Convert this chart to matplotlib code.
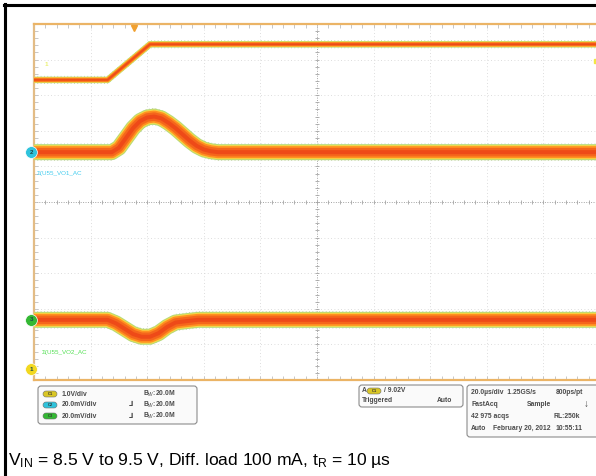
import numpy as np
import matplotlib
matplotlib.use("Agg")
import matplotlib.pyplot as plt
from matplotlib.patches import FancyBboxPatch

plt.rcParams['font.family'] = ['Liberation Sans', 'DejaVu Sans']
plt.rcParams['mathtext.fontset'] = 'custom'
plt.rcParams['mathtext.rm'] = 'Liberation Sans'

W, H = 596, 476
PX = 0.72  # one pixel in points at dpi 100

# scope settings
time_scale = 20.0   # us/div
ch1_scale = 1.0     # V/div
ch2_scale = 20.0    # mV/div
ch3_scale = 20.0    # mV/div
ch1_ref = 8.5       # V shown at ch1_pos
ch1_pos = 3.43      # div
ch2_pos = 1.40
ch3_pos = -3.31

# CH1: input step 8.5 V -> 9.5 V (V)
ch1_t = [-100, -74, -59, -57, 100]
ch1_v = [8.5, 8.5, 9.5, 9.5, 9.5]

# CH2: output 1, AC coupled (mV)
ch2_t = [-100, -72.5, -70, -67.5, -65, -62.5, -60, -57.5, -55, -52.5, -50,
         -47.5, -45, -42.5, -40, -37.5, -35, 100]
ch2_v = [0, 0, 2.5, 8, 13.5, 17.5, 19.5, 20, 19, 16.5, 13.5, 10, 6.5, 3.5,
         1.5, 0.5, 0, 0]

# CH3: output 2, AC coupled (mV)
ch3_t = [-100, -74, -71, -68, -65, -62, -59, -56, -53, -50, -46, -42, 100]
ch3_v = [0, 0, -2, -5, -8, -9.5, -9.5, -7.5, -4, -1.5, -0.7, 0, 0]

ch_rows = ['1.0V/div', '20.0mV/div', '20.0mV/div']
ch_colors = ['#D9C625', '#2FC3DC', '#34B834']

band_colors = ['#B8DA78', '#F7D846', '#FF9020', '#F5661C', '#EE4A18']


def draw_band(ax, x, y, widths, spread):
    for w, c in zip(widths, band_colors):
        ax.plot(x, y, color=c, lw=w * PX, solid_capstyle='butt',
                solid_joinstyle='round', zorder=3)
    # speckle at the edges of the fast-acq band
    for s in (-spread, spread):
        ax.plot(x, np.asarray(y) + s, color='#6F8F4A', lw=0.6,
                ls=(0, (1, 3)), alpha=0.5, zorder=2)


fig = plt.figure(figsize=(W / 100, H / 100), dpi=100)

ax = fig.add_axes([34 / W, 1 - 380 / H, 566 / W, 356 / H])
ax.set_xlim(-5, 5)
ax.set_ylim(-5, 5)
for side, sp in ax.spines.items():
    sp.set_color('#EBB466')
    sp.set_linewidth(1.6)
ax.spines['left'].set_color('#E3BC85')

fine = np.arange(-5, 5.01, 0.2)
ax.set_xticks(fine)
ax.set_yticks(fine)
ax.tick_params(which='both', direction='in', length=3, width=0.6,
               color='#BEBEBE', top=True, right=True,
               labelbottom=False, labelleft=False)

# graticule
for k in range(-4, 5):
    if k == 0:
        continue
    ax.axvline(k, color='#D2D2D2', lw=0.6, ls=(0, (1, 3)), zorder=1)
    ax.axhline(k, color='#D2D2D2', lw=0.6, ls=(0, (1, 3)), zorder=1)
ax.axvline(0, color='#A4A4A4', lw=0.7, ls=(0, (1, 1.5)), zorder=1)
ax.axhline(0, color='#A4A4A4', lw=0.7, ls=(0, (1, 1.5)), zorder=1)
ax.plot(fine, np.zeros_like(fine), ls='none', marker='|', ms=3,
        mew=0.6, color='#A4A4A4', zorder=1)
ax.plot(np.zeros_like(fine), fine, ls='none', marker='_', ms=3,
        mew=0.6, color='#A4A4A4', zorder=1)

# traces
x1 = np.array(ch1_t) / time_scale
y1 = (np.array(ch1_v) - ch1_ref) / ch1_scale + ch1_pos
draw_band(ax, x1, y1, [6.5, 5.5, 4.5, 3, 1.5], 0.1)

x2 = np.array(ch2_t) / time_scale
y2 = np.array(ch2_v) / ch2_scale + ch2_pos
draw_band(ax, x2, y2, [16, 14, 12, 8.5, 4], 0.23)

x3 = np.array(ch3_t) / time_scale
y3 = np.array(ch3_v) / ch3_scale + ch3_pos
draw_band(ax, x3, y3, [16, 14, 12, 8.5, 4], 0.23)

# channel markers on the left edge
for yy, col, lab in [(ch2_pos, ch_colors[1], '2'),
                     (ch3_pos, ch_colors[2], '3'),
                     (-4.7, '#F2D820', '1')]:
    ax.plot(-5.05, yy, 'o', ms=8.5, color=col, mec='white', mew=0.5,
            clip_on=False, zorder=6)
    ax.text(-5.05, yy, lab, fontsize=4.5, color='#1A4A4A', ha='center',
            va='center', fontweight='bold', zorder=7, clip_on=False)

ax.text(-4.95, ch2_pos - 0.6, 'Σ(U55_VO1_AC', fontsize=4.5,
        color='#44CCEE', va='center')
ax.text(-4.86, ch3_pos - 0.93, 'Σ(U55_VO2_AC', fontsize=4.5,
        color='#55E055', va='center')
ax.text(-4.82, 3.87, '1', fontsize=4.5, color='#EAF070', va='center',
        fontweight='bold')
ax.plot(4.93, 3.95, 's', ms=2.5, color='#F2E642', clip_on=False, zorder=5)
ax.plot(-64.5 / time_scale, 4.9, 'v', ms=4, color='#F0A030',
        clip_on=False, zorder=6)

# overlay in pixel coordinates for the readout boxes and caption
ov = fig.add_axes([0, 0, 1, 1])
ov.set_xlim(0, W)
ov.set_ylim(H, 0)
ov.axis('off')

ov.plot([5, 5], [4, H], color='black', lw=2.2 * PX * 1.4)
ov.plot([4, W], [5, 5], color='black', lw=2.2 * PX * 1.4)


def box(x0, y0, x1, y1):
    ov.add_patch(FancyBboxPatch((x0, y0), x1 - x0, y1 - y0,
                                boxstyle='round,pad=0,rounding_size=3',
                                fc='#FAFAFA', ec='#8C8C8C', lw=0.8))


def txt(x, y, s, size=4.9):
    ov.text(x, y, s, fontsize=size, fontweight='bold', color='#4A4A4A',
            va='center')


def pill(x, y, col, lab):
    ov.add_patch(FancyBboxPatch((x, y - 3), 14, 6,
                                boxstyle='round,pad=0,rounding_size=3',
                                fc=col, ec='#707070', lw=0.4))
    ov.text(x + 7, y, lab, fontsize=3, color='#333333', ha='center',
            va='center', fontweight='bold')


# channel readout
box(38, 386, 197, 424)
for i, (row, col) in enumerate(zip(ch_rows, ch_colors)):
    yy = 394 + i * 11
    pill(43, yy, col, 'C%d' % (i + 1))
    txt(62, yy, row)
    txt(143, yy, 'B$_W$:20.0M')
    if i > 0:
        txt(129, yy, '⅃')

# trigger readout
box(359, 385, 463, 407)
txt(362, 391, 'A')
pill(367, 391, ch_colors[0], 'C1')
txt(384, 391, '/ 9.02V')
txt(362, 401, 'Triggered')
txt(437, 401, 'Auto')

# timebase readout
box(467, 385, 600, 437)
txt(471, 392, '20.0µs/div  1.25GS/s')
txt(556, 392, '800ps/pt')
txt(471, 404, 'FastAcq')
txt(527, 404, 'Sample')
txt(584, 404, '↓', size=7)
txt(471, 416, '42 975 acqs')
txt(554, 416, 'RL:250k')
txt(471, 428, 'Auto')
txt(493, 428, 'February 20, 2012')
txt(556, 428, '10:55:11')

caption = (r'$\mathrm{V_{IN}}$ = 8.5 V to 9.5 V, Diff. load 100 mA, '
           r'$\mathrm{t_R}$ = 10 µs')
ov.text(8, 465, caption, fontsize=12.6, color='black', va='baseline')

fig.savefig('out.png', dpi=100)
